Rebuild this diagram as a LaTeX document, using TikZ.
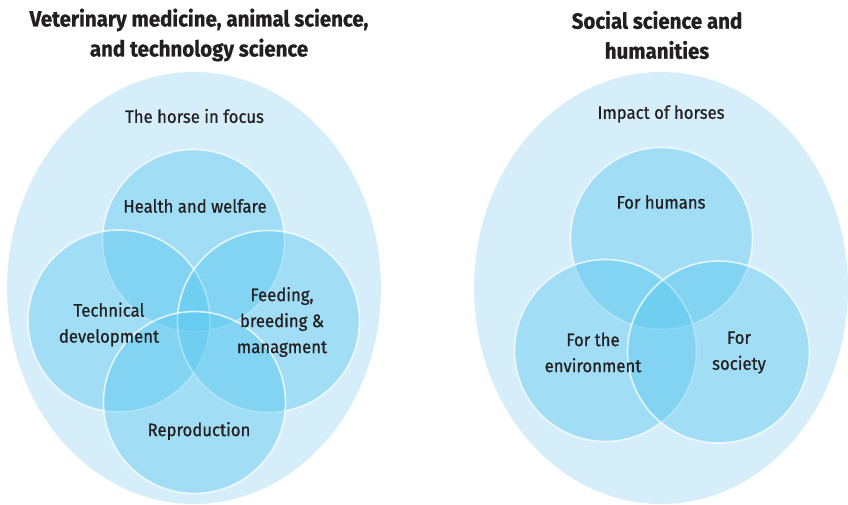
\documentclass[tikz,border=0pt]{standalone}
\usepackage{fontspec}
\setmainfont{Fira Sans}[FakeStretch=0.82]
\newfontfamily\titlefont{Fira Sans}[FakeStretch=0.93, UprightFont=*, BoldFont=* Bold, BoldFeatures={FakeBold=0.8}]
\newfontfamily\labfont{Fira Sans}[FakeStretch=0.93, FakeBold=0.7]
\usetikzlibrary{shapes.geometric}
\definecolor{outerblue}{RGB}{214,237,250}
\definecolor{innerblue}{RGB}{89,201,240}
\definecolor{txt}{RGB}{35,31,32}
\tikzset{
  outer/.style={ellipse, fill=outerblue, draw=none, minimum width=374pt, minimum height=432pt, inner sep=0pt},
  venn/.style={circle, fill=innerblue, fill opacity=0.42, draw=white, draw opacity=0.75, line width=1.6pt, minimum size=182pt, inner sep=0pt},
  title/.style={text=txt, font=\titlefont\fontsize{22}{30}\selectfont\bfseries, align=center},
  lab/.style={text=txt, font=\labfont\fontsize{18}{26}\selectfont, align=center},
}
\begin{document}
\begin{tikzpicture}[x=1pt,y=-1pt]
\useasboundingbox (0,0) rectangle (848,505);
% left group
\node[outer] (lout) at (194,288) {};
\node[venn] (health) at (193.5,240.5) {};
\node[venn] (tech) at (119,321) {};
\node[venn] (feed) at (268.5,321.5) {};
\node[venn] (repro) at (194.5,402.5) {};
% right group
\node[outer] (rout) at (661,288) {};
\node[venn] (humans) at (661.5,238.5) {};
\node[venn] (env) at (605.5,350.5) {};
\node[venn] (soc) at (718.5,352) {};
% titles
\node[title] (ltitle) at (199,35) {Veterinary medicine, animal science,\\and technology science};
\node[title] (rtitle) at (657,35) {Social science and\\humanities};
% labels
\node[lab] (lfocus) at (194.5,116) {The horse in focus};
\node[lab] (lhealth) at (195,206) {Health and welfare};
\node[lab] (ltech) at (109,324.5) {Technical\\development};
\node[lab] (lfeed) at (282,322) {Feeding,\\breeding \&\\managment};
\node[lab] (lrepro) at (199,431) {Reproduction};
\node[lab] (rimpact) at (661,114) {Impact of horses};
\node[lab] (rhumans) at (661,202) {For humans};
\node[lab] (renv) at (593,352.5) {For the\\environment};
\node[lab] (rsoc) at (739,352.5) {For\\society};
\end{tikzpicture}
\end{document}
